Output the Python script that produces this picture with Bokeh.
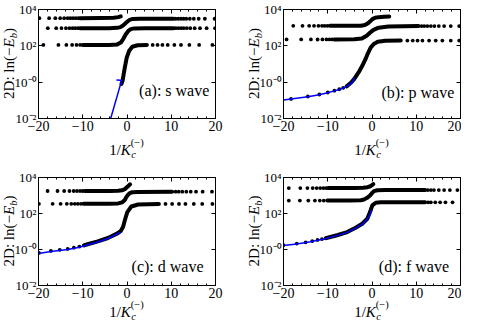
import numpy as np
from bokeh.plotting import figure
from bokeh.models import Range1d, FixedTicker, LinearAxis, LogAxis, CustomJSTickFormatter, Label, Div
from bokeh.layouts import column, row
from bokeh.embed import file_html
from bokeh.resources import INLINE

# ---------------- data (y given as log10 values) ----------------
x_major = [-20, -10, 0, 10, 20]
x_minor = [-18, -16, -14, -12, -8, -6, -4, -2, 2, 4, 6, 8, 12, 14, 16, 18]
y_major = [1e-2, 1e0, 1e2, 1e4]
panel_titles = ["(a): s wave", "(b): p wave", "(c): d wave", "(d): f wave"]

# panel (a) s wave
a_top_ldots_x = [-19.8, -17.6, -16.2, -15.1, -14.2, -13.4, -12.8, -12.2, -11.6, -11.0]
a_top_lev = 3.52
a_top_line_x = [-10.6, -6.0, -3.0, -2.0, -1.4]
a_top_line_ly = [3.52, 3.53, 3.55, 3.58, 3.62]
a_mid_ldots_x = [-17.9, -16.0, -14.8, -13.8, -13.0, -12.3, -11.7, -11.1]
a_mid_lev = 2.97
a_mid_line_x = [-10.6, -4.0, -2.2, -1.5, -0.9, -0.4, 0.1, 0.6, 1.3, 3.0, 10.5]
a_mid_line_ly = [2.97, 2.97, 2.99, 3.03, 3.12, 3.23, 3.34, 3.43, 3.48, 3.49, 3.49]
a_mid_rdots_x = [11.0, 11.6, 12.2, 12.8, 13.4, 14.2, 15.1, 16.2, 17.6, 19.8]
a_mid_rlev = 3.49
a_low_ldots_x = [-18.9, -15.5, -13.7, -12.4, -11.4, -10.6]
a_low_lev = 2.05
a_low_line_x = [-10.0, -4.0, -2.2, -1.4, -0.8, -0.27, 0.3, 0.86, 1.6, 4.0, 10.5]
a_low_line_ly = [2.05, 2.05, 2.08, 2.18, 2.40, 2.64, 2.82, 2.92, 2.96, 2.97, 2.97]
a_low_rdots_x = [11.0, 11.6, 12.2, 12.8, 13.5, 14.3, 15.3, 16.5, 18.0, 19.9]
a_low_rlev = 2.97
a_bot_ldots_x = []
a_bot_ldots_ly = []
a_bot_line_x = [-1.25, -1.0, -0.5, -0.05, 0.5, 1.2, 2.4, 4.5]
a_bot_line_ly = [-0.1, 0.08, 0.8, 1.36, 1.73, 1.95, 2.03, 2.05]
a_bot_rdots_x = [5.8, 6.9, 8.0, 9.2, 10.7, 12.2, 14.1, 16.3, 19.3]
a_bot_rlev = 2.05
a_fit_x = [-3.75, -2.5, -1.5, -1.15, -1.35, -2.4]
a_fit_ly = [-2.05, -1.0, -0.15, 0.05, 0.1, 0.12]

# panel (b) p wave
b_top_ldots_x = [-17.8, -15.7, -14.2, -13.1, -12.1, -11.3, -10.7, -10.1]
b_top_lev = 3.10
b_top_line_x = [-9.5, -4.0, -2.5, -1.6, -0.9, -0.4, 0.1, 0.7, 1.5, 2.7, 3.9]
b_top_line_ly = [3.10, 3.10, 3.11, 3.15, 3.24, 3.35, 3.47, 3.55, 3.58, 3.60, 3.61]
b_mid_ldots_x = [-19.3, -16.0, -13.8, -12.3, -11.2, -10.3, -9.6, -9.0]
b_mid_lev = 2.35
b_mid_line_x = [-8.5, -4.0, -2.3, -1.2, -0.4, 0.35, 1.5, 3.7, 10.5]
b_mid_line_ly = [2.35, 2.36, 2.40, 2.55, 2.73, 2.88, 3.00, 3.07, 3.09]
b_mid_rdots_x = [11.2, 11.8, 12.5, 13.3, 14.1, 15.1, 16.3, 17.8, 19.7]
b_mid_rlev = 3.09
b_bot_ldots_x = [-18.3, -14.5, -11.9, -10.0, -8.5, -7.4, -6.5, -5.7]
b_bot_ldots_ly = [-0.92, -0.79, -0.68, -0.57, -0.47, -0.39, -0.31, -0.23]
b_bot_line_x = [-5.7, -4.7, -4.0, -3.0, -2.2, -1.5, -0.9, -0.3, 0.4, 1.3, 3.0, 6.5]
b_bot_line_ly = [-0.23, -0.02, 0.18, 0.55, 0.90, 1.25, 1.60, 1.90, 2.10, 2.22, 2.28, 2.29]
b_bot_rdots_x = [8.0, 9.2, 10.3, 11.4, 12.9, 14.4, 15.9, 17.8, 19.7]
b_bot_rlev = 2.29
b_fit_x = [-20, -18.3, -14.5, -11.9, -10.0, -8.5, -7.4, -6.4, -5.5, -4.8, -4.3, -4.0]
b_fit_ly = [-0.98, -0.93, -0.80, -0.69, -0.58, -0.48, -0.40, -0.31, -0.20, -0.08, 0.05, 0.26]

# panel (c) d wave
c_top_ldots_x = [-17.95, -15.7, -14.2, -13.0, -12.05, -11.3, -10.6, -10.0]
c_top_lev = 3.25
c_top_line_x = [-9.5, -4.0, -2.0, -1.1, -0.5, -0.16, 0.3, 0.7]
c_top_line_ly = [3.25, 3.25, 3.26, 3.29, 3.35, 3.43, 3.53, 3.62]
c_mid_ldots_x = [-19.9, -16.8, -15.0, -13.6, -12.6, -11.8, -11.1, -10.4]
c_mid_lev = 2.54
c_mid_line_x = [-9.8, -4.0, -2.0, -1.07, -0.5, -0.16, 0.2, 0.61, 1.2, 2.5, 10.2]
c_mid_line_ly = [2.54, 2.54, 2.56, 2.62, 2.75, 2.91, 3.03, 3.13, 3.18, 3.20, 3.21]
c_mid_rdots_x = [11.0, 11.7, 12.5, 13.4, 14.4, 15.6, 17.1, 19.2]
c_mid_rlev = 3.21
c_bot_ldots_x = [-19.9, -17.2, -15.2, -13.4, -12.0, -10.75, -9.7]
c_bot_ldots_ly = [-0.19, -0.08, -0.02, 0.03, 0.10, 0.16, 0.23]
c_bot_line_x = [-9.7, -8.9, -6.6, -4.3, -2.05, -1.45, -0.9, -0.39, 0.07, 0.98, 2.5, 7.2]
c_bot_line_ly = [0.23, 0.29, 0.45, 0.64, 0.91, 1.02, 1.25, 1.71, 2.08, 2.39, 2.50, 2.53]
c_bot_rdots_x = [8.7, 10.2, 11.75, 13.2, 15.1, 17.0, 19.3]
c_bot_rlev = 2.53
c_fit_x = [-20, -17.2, -13.4, -10.75, -8.9, -6.6, -4.3, -2.05, -1.45]
c_fit_ly = [-0.22, -0.11, 0.0, 0.13, 0.26, 0.42, 0.61, 0.88, 0.97]

# panel (d) f wave
d_top_ldots_x = [-18.8, -16.2, -14.6, -13.4, -12.5, -11.7, -11.0, -10.4]
d_top_lev = 3.41
d_top_line_x = [-9.9, -4.0, -2.0, -1.0, -0.5, -0.1, 0.3]
d_top_line_ly = [3.41, 3.42, 3.43, 3.46, 3.50, 3.56, 3.63]
d_mid_ldots_x = [-18.8, -16.3, -14.4, -12.9, -11.8, -10.9]
d_mid_lev = 2.72
d_mid_line_x = [-10.1, -5.0, -2.5, -1.8, -1.1, -0.45, 0.1, 0.45, 1.2, 3.0, 12.0]
d_mid_line_ly = [2.72, 2.72, 2.74, 2.78, 2.87, 3.00, 3.16, 3.24, 3.29, 3.30, 3.30]
d_mid_rdots_x = [12.6, 13.3, 14.0, 15.1, 16.3, 17.6, 19.3]
d_mid_rlev = 3.30
d_bot_ldots_x = [-20.0, -17.0, -15.0, -13.5, -12.3, -11.3, -10.4]
d_bot_ldots_ly = [0.24, 0.33, 0.40, 0.47, 0.53, 0.58, 0.63]
d_bot_line_x = [-10.4, -9.6, -7.9, -5.6, -3.7, -2.2, -1.06, -0.45, 0.07, 0.84, 1.98, 4.0, 12.0]
d_bot_line_ly = [0.63, 0.68, 0.79, 0.97, 1.21, 1.43, 1.71, 2.08, 2.45, 2.60, 2.62, 2.62, 2.62]
d_bot_rdots_x = [12.7, 13.3, 14.3, 15.4, 16.6, 18.2]
d_bot_rlev = 2.62
d_fit_x = [-20, -17, -13.9, -10.9, -7.9, -5.6, -3.7, -2.2, -1.06, -0.45, 0.0]
d_fit_ly = [0.22, 0.31, 0.43, 0.58, 0.77, 0.95, 1.19, 1.41, 1.69, 1.95, 2.2]

SERIF = "Liberation Serif"
DOT = 3.8
LW = 4.0
FRAME_W = 177
YDIV_W = 10
BORDER_L = 28

y_fmt = CustomJSTickFormatter(code="""
const e = Math.round(Math.log10(tick));
const m = {"0":"\u2070","1":"\u00b9","2":"\u00b2","3":"\u00b3","4":"\u2074"};
const s = String(Math.abs(e)).split("").map(c => m[c]).join("");
return "10" + (e <= 0 ? "\u207b" : "") + s;
""")
x_fmt = CustomJSTickFormatter(code="""
return tick < 0 ? "\u2212" + Math.abs(tick) : String(tick);
""")
blank_fmt = CustomJSTickFormatter(code="return '';")


def style_axis(ax, labels=True, size="14px"):
    ax.axis_line_color = "black"
    ax.major_tick_line_color = "black"
    ax.minor_tick_line_color = "black"
    ax.major_tick_in = 4
    ax.major_tick_out = 0
    ax.minor_tick_in = 2
    ax.minor_tick_out = 0
    ax.major_label_text_font = SERIF
    ax.major_label_text_font_size = size
    ax.major_label_text_color = "black"
    ax.major_label_standoff = 2 if labels else 0


def make_panel(width, height, border_right, branches, fit, title, title_pos):
    p = figure(width=width, height=height, x_range=Range1d(-20, 20), y_range=Range1d(1e-2, 1e4),
               y_axis_type="log", output_backend="svg", toolbar_location=None)
    p.min_border_left = BORDER_L
    p.min_border_right = border_right
    p.min_border_top = 9
    p.min_border_bottom = 20
    p.grid.visible = False
    p.outline_line_color = "black"
    p.background_fill_color = "white"
    p.border_fill_color = None

    xt = FixedTicker(ticks=x_major, minor_ticks=x_minor)
    yt = FixedTicker(ticks=y_major, minor_ticks=[])
    p.xaxis.ticker = xt
    p.xaxis.formatter = x_fmt
    p.yaxis.ticker = yt
    p.yaxis.formatter = y_fmt
    style_axis(p.xaxis[0], size="14px")
    style_axis(p.yaxis[0], size="13px")
    top = LinearAxis(ticker=xt, formatter=blank_fmt)
    style_axis(top, labels=False)
    p.add_layout(top, "above")
    right = LogAxis(ticker=yt, formatter=blank_fmt)
    style_axis(right, labels=False)
    p.add_layout(right, "right")

    for (ldx, ldy, lx, lly, rdx, rlev) in branches:
        if len(ldx):
            p.scatter(ldx, 10 ** np.asarray(ldy, dtype=float), size=DOT, color="black", line_width=0)
        p.line(lx, 10 ** np.asarray(lly, dtype=float), line_width=LW, color="black",
               line_cap="round", line_join="round")
        if rdx is not None and len(rdx):
            p.scatter(rdx, [10 ** rlev] * len(rdx), size=DOT, color="black", line_width=0)

    fx, fly = fit
    p.line(fx, 10 ** np.asarray(fly, dtype=float), line_width=1.5, color="#0000ff")

    tx, tly = title_pos
    p.add_layout(Label(x=tx, y=10 ** tly, text=title, text_font=SERIF, text_font_size="16px",
                       text_align="right", text_baseline="middle", text_color="black"))
    return p


FONT_CSS = "font-family:'Liberation Serif',serif;color:#000;"


def ylabel_div(h, frame_bottom, frame_h):
    html = (
        f'<div style="position:relative;width:{YDIV_W}px;height:{h}px;">'
        f'<div style="position:absolute;left:3.8px;top:{frame_bottom}px;width:{frame_h}px;height:10px;'
        f'line-height:10px;text-align:center;white-space:nowrap;transform-origin:0 0;'
        f'transform:rotate(-90deg);font-size:15px;{FONT_CSS}">'
        '2D: ln(\u2212<i>E</i><span style="position:relative;top:3px;font-size:10.5px;line-height:0;"><i>b</i></span>)'
        '</div></div>'
    )
    return Div(text=html, width=YDIV_W, height=h, margin=0)


def xlabel_div(w, h, top):
    left = YDIV_W + BORDER_L
    html = (
        f'<div style="position:relative;width:{w}px;height:{h}px;">'
        f'<div style="position:absolute;left:{left}px;top:{top}px;width:{FRAME_W}px;height:16px;'
        f'line-height:16px;text-align:center;white-space:nowrap;font-size:15px;{FONT_CSS}">'
        '1/<i>K</i>'
        '<span style="display:inline-block;position:relative;width:13px;height:1px;">'
        '<span style="position:absolute;left:0;bottom:6px;font-size:10.5px;line-height:10.5px;">(\u2212)</span>'
        '<span style="position:absolute;left:0.5px;top:-3.4px;font-size:10.5px;line-height:10.5px;"><i>c</i></span>'
        '</span></div></div>'
    )
    return Div(text=html, width=w, height=h, margin=0)


def lev_list(xs, lev):
    return [lev] * len(xs)


W1 = BORDER_L + FRAME_W + 30   # 235
W2 = BORDER_L + FRAME_W + 1    # 206
H1 = 9 + 109 + 20              # 138
H2 = 9 + 108 + 20              # 137

pa = make_panel(W1, H1, 30, [
    (a_top_ldots_x, lev_list(a_top_ldots_x, a_top_lev), a_top_line_x, a_top_line_ly, None, None),
    (a_mid_ldots_x, lev_list(a_mid_ldots_x, a_mid_lev), a_mid_line_x, a_mid_line_ly, a_mid_rdots_x, a_mid_rlev),
    (a_low_ldots_x, lev_list(a_low_ldots_x, a_low_lev), a_low_line_x, a_low_line_ly, a_low_rdots_x, a_low_rlev),
    (a_bot_ldots_x, a_bot_ldots_ly, a_bot_line_x, a_bot_line_ly, a_bot_rdots_x, a_bot_rlev),
], (a_fit_x, a_fit_ly), panel_titles[0], (18.6, -0.45))

pb = make_panel(W2, H1, 1, [
    (b_top_ldots_x, lev_list(b_top_ldots_x, b_top_lev), b_top_line_x, b_top_line_ly, None, None),
    (b_mid_ldots_x, lev_list(b_mid_ldots_x, b_mid_lev), b_mid_line_x, b_mid_line_ly, b_mid_rdots_x, b_mid_rlev),
    (b_bot_ldots_x, b_bot_ldots_ly, b_bot_line_x, b_bot_line_ly, b_bot_rdots_x, b_bot_rlev),
], (b_fit_x, b_fit_ly), panel_titles[1], (18.6, -0.55))

pc = make_panel(W1, H2, 30, [
    (c_top_ldots_x, lev_list(c_top_ldots_x, c_top_lev), c_top_line_x, c_top_line_ly, None, None),
    (c_mid_ldots_x, lev_list(c_mid_ldots_x, c_mid_lev), c_mid_line_x, c_mid_line_ly, c_mid_rdots_x, c_mid_rlev),
    (c_bot_ldots_x, c_bot_ldots_ly, c_bot_line_x, c_bot_line_ly, c_bot_rdots_x, c_bot_rlev),
], (c_fit_x, c_fit_ly), panel_titles[2], (17.3, -0.92))

pd_ = make_panel(W2, H2, 1, [
    (d_top_ldots_x, lev_list(d_top_ldots_x, d_top_lev), d_top_line_x, d_top_line_ly, None, None),
    (d_mid_ldots_x, lev_list(d_mid_ldots_x, d_mid_lev), d_mid_line_x, d_mid_line_ly, d_mid_rdots_x, d_mid_rlev),
    (d_bot_ldots_x, d_bot_ldots_ly, d_bot_line_x, d_bot_line_ly, d_bot_rdots_x, d_bot_rlev),
], (d_fit_x, d_fit_ly), panel_titles[3], (17.4, -0.92))

row1 = row(ylabel_div(H1, 118, 109), pa, ylabel_div(H1, 118, 109), pb)
lab1 = row(xlabel_div(YDIV_W + W1, 30, 3.5), xlabel_div(YDIV_W + W2, 30, 3.5))
row2 = row(ylabel_div(H2, 117, 108), pc, ylabel_div(H2, 117, 108), pd_)
lab2 = row(xlabel_div(YDIV_W + W1, 12, -1.5), xlabel_div(YDIV_W + W2, 12, -1.5))

layout = column(row1, lab1, row2, lab2)
open("out.html", "w").write(file_html(layout, INLINE))
